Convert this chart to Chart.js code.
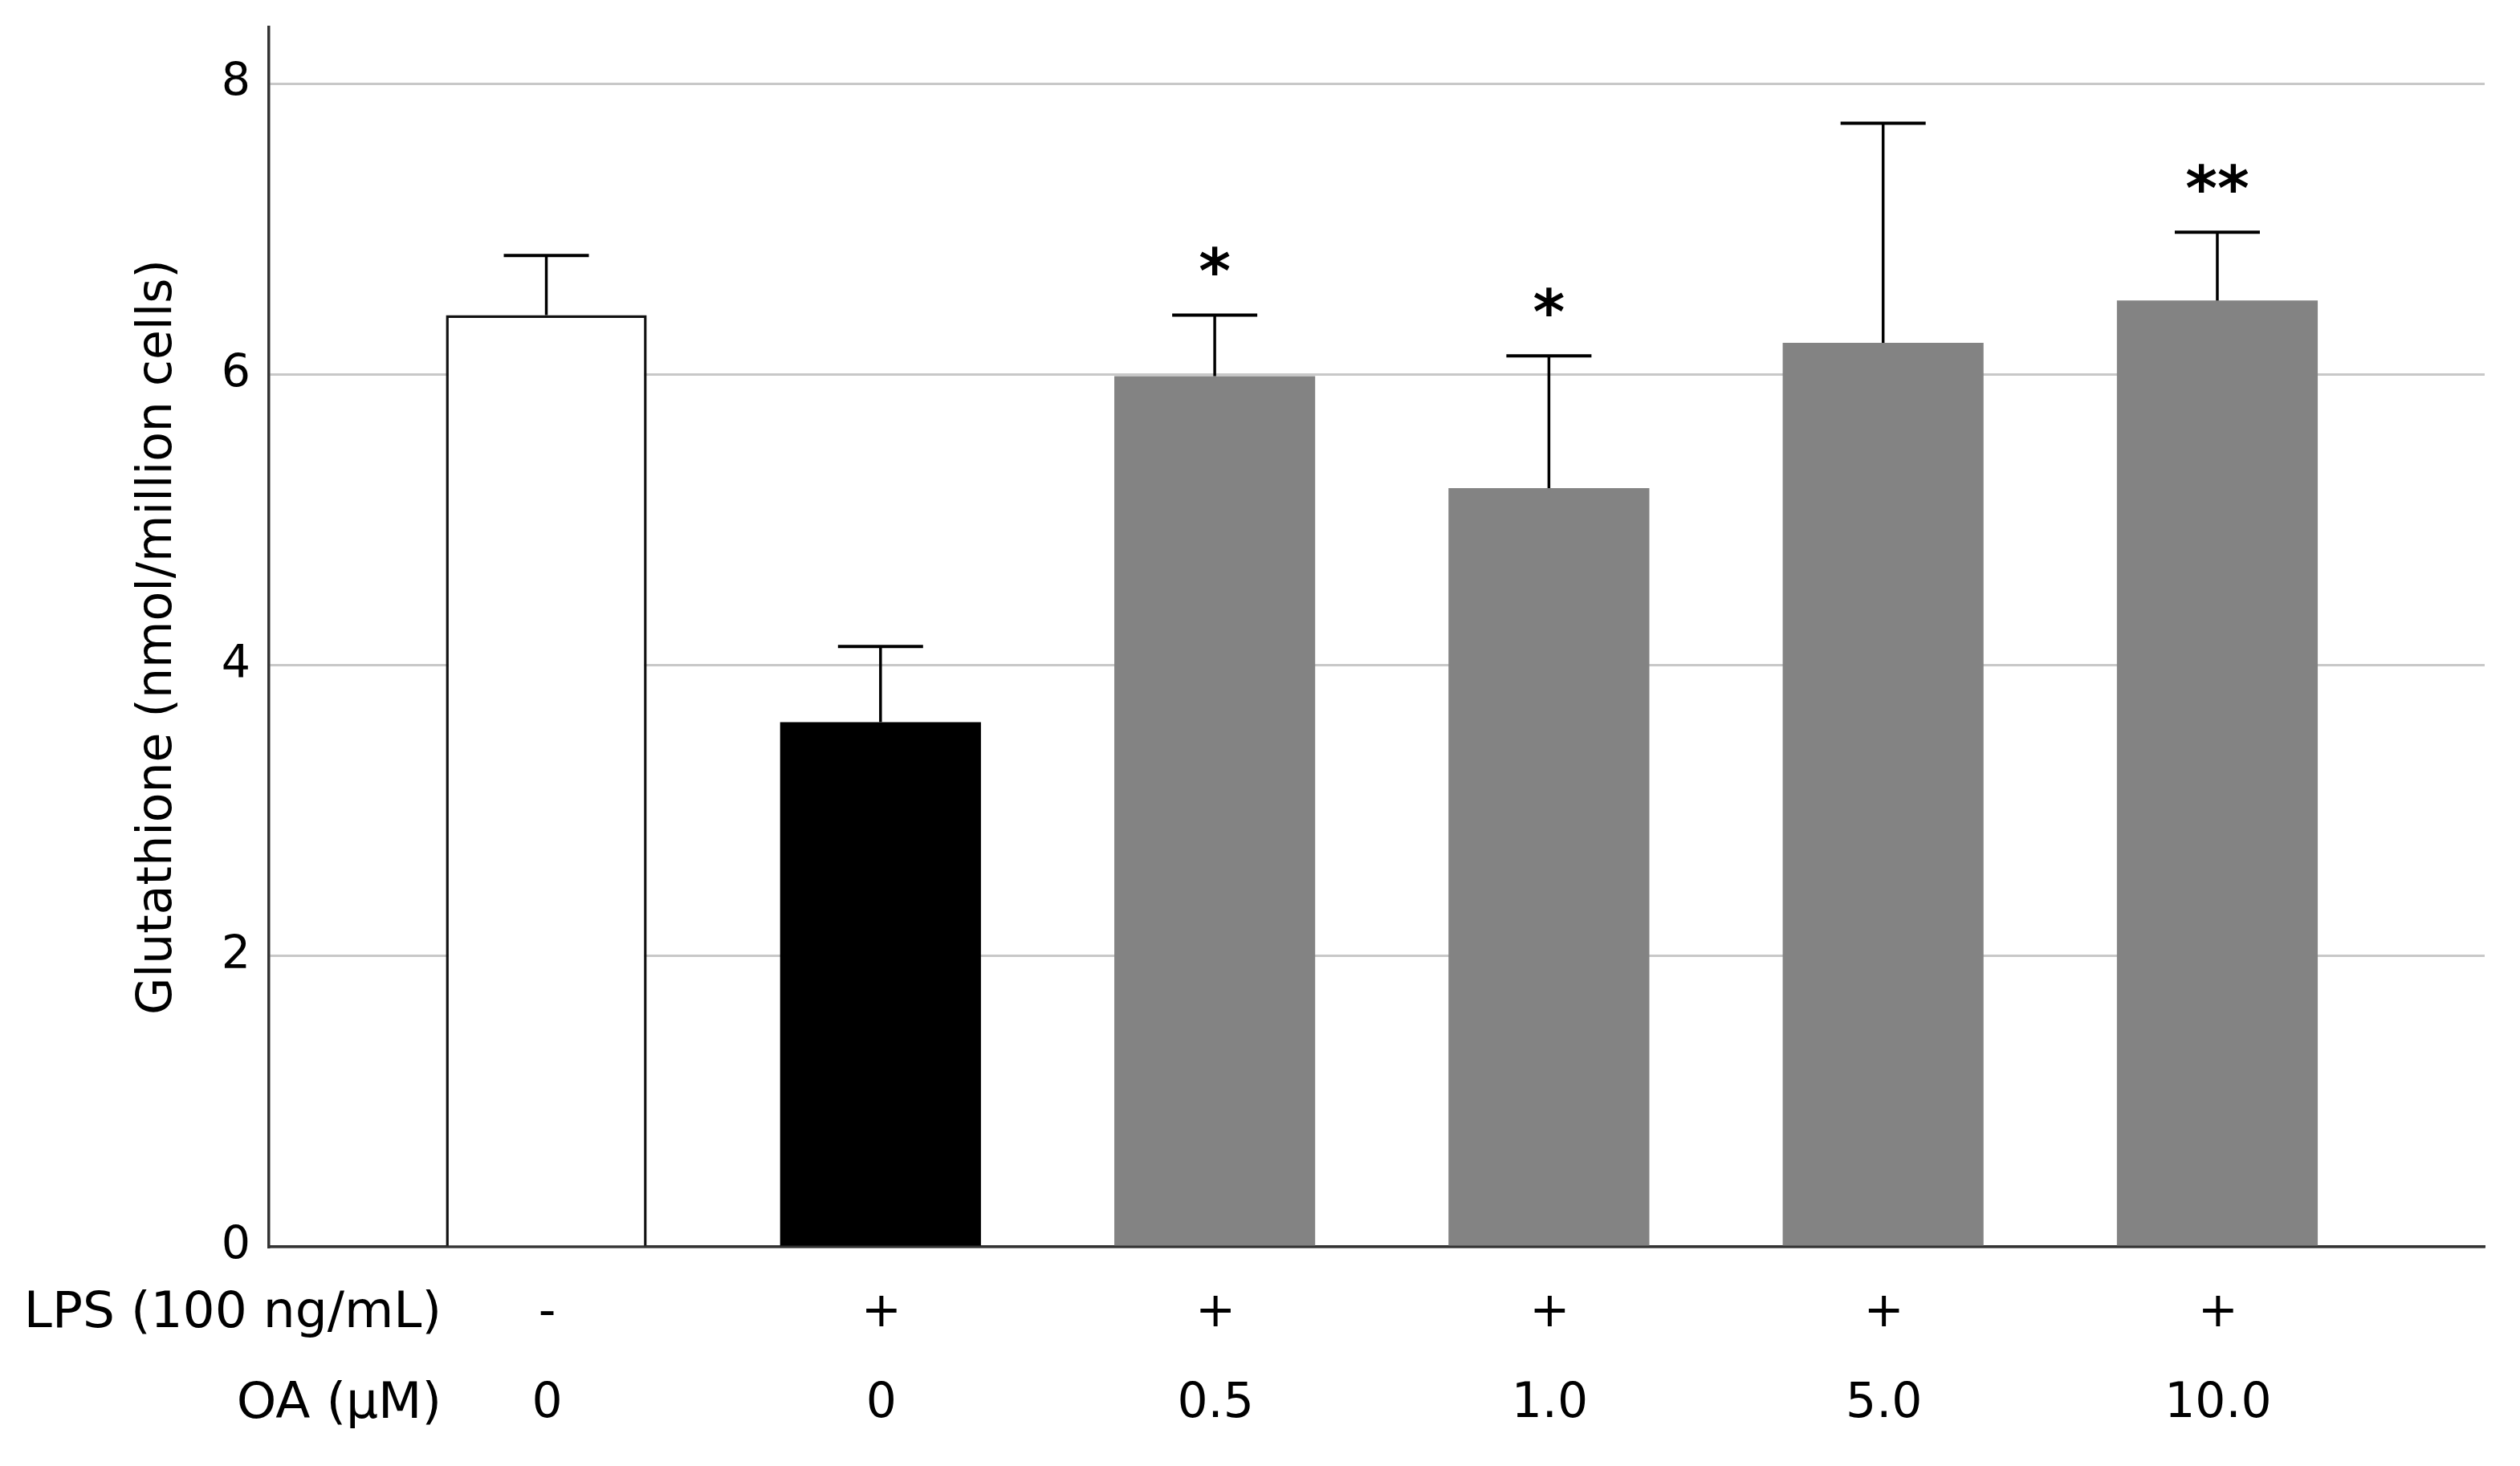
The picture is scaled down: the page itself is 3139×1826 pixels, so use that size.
<!DOCTYPE html>
<html>
<head>
<meta charset="utf-8">
<script src="https://cdn.jsdelivr.net/npm/chart.js@4.4.0/dist/chart.umd.min.js"></script>
<style>
  html, body { margin: 0; padding: 0; background: #fff; }
  #wrap { width: 3139px; height: 1826px; }
</style>
</head>
<body>
<div id="wrap"><canvas id="gshChart"></canvas></div>
<script>
// data
const lpsLabels = ['-', '+', '+', '+', '+', '+'];
const oaLabels = ['0', '0', '0.5', '1.0', '5.0', '10.0'];
const meanValues = [6.41, 3.61, 5.99, 5.22, 6.22, 6.51];
const sdValues = [0.41, 0.52, 0.42, 0.91, 1.51, 0.47];
const sigMarks = ['', '', '*', '*', '', '**'];
const yTicks = [0, 2, 4, 6, 8];
const rowTitles = ['LPS (100 ng/mL)', 'OA (\u00b5M)'];

const barColors = ['#ffffff', '#000000', '#838383', '#838383', '#838383', '#838383'];
const FONT = "'DejaVu Sans', sans-serif";
const tickLineHeight = 113;
const tickPad = 27;

// upper error bars + significance stars
const errorBars = {
    id: 'errorBars',
    afterDatasetsDraw(chart) {
        const ctx = chart.ctx;
        const yScale = chart.scales.y;
        const meta = chart.getDatasetMeta(0);
        ctx.save();
        ctx.strokeStyle = '#000';
        meta.data.forEach((bar, i) => {
            const yTop = yScale.getPixelForValue(meanValues[i] + sdValues[i]);
            ctx.lineWidth = 3.5;
            ctx.beginPath();
            ctx.moveTo(bar.x, bar.y);
            ctx.lineTo(bar.x, yTop);
            ctx.stroke();
            ctx.lineWidth = 4;
            ctx.beginPath();
            ctx.moveTo(bar.x - 53, yTop);
            ctx.lineTo(bar.x + 53, yTop);
            ctx.stroke();
            if (sigMarks[i]) {
                ctx.fillStyle = '#000';
                ctx.font = 'bold 76px ' + FONT;
                ctx.textAlign = 'center';
                ctx.textBaseline = 'alphabetic';
                ctx.fillText(sigMarks[i], bar.x, yTop - 28);
            }
        });
        ctx.restore();
    }
};

// row titles left of the two x label rows
const rowTitlePlugin = {
    id: 'rowTitles',
    afterDraw(chart) {
        const ctx = chart.ctx;
        const xScale = chart.scales.x;
        ctx.save();
        ctx.fillStyle = '#000';
        ctx.font = '63px ' + FONT;
        ctx.textAlign = 'right';
        ctx.textBaseline = 'middle';
        rowTitles.forEach((t, i) => {
            const y = xScale.top + tickPad + tickLineHeight / 2 + i * tickLineHeight;
            ctx.fillText(t, 550, y);
        });
        ctx.restore();
    }
};

const ctx = document.getElementById('gshChart').getContext('2d');
const chart = new Chart(ctx, {
    type: 'bar',
    data: {
        datasets: [{
            data: meanValues.map((v, i) => ({ x: i, y: v })),
            backgroundColor: barColors,
            borderColor: '#111',
            borderWidth: [3.5, 0, 0, 0, 0, 0],
            borderSkipped: 'start',
            barPercentage: 0.601,
            categoryPercentage: 1
        }]
    },
    options: {
        responsive: true,
        maintainAspectRatio: false,
        devicePixelRatio: 1,
        animation: false,
        layout: { padding: { top: 34, right: 44, left: 0, bottom: 0 } },
        plugins: {
            legend: { display: false },
            tooltip: { enabled: false }
        },
        scales: {
            x: {
                type: 'linear',
                offset: false,
                min: -0.83,
                max: 5.80,
                grid: { display: false, drawTicks: false },
                border: { color: '#333', width: 3.5 },
                afterBuildTicks: (scale) => {
                    scale.ticks = oaLabels.map((_, i) => ({ value: i }));
                },
                afterFit: (scale) => {
                    scale.height = 273;
                    scale.paddingLeft = 0;
                    scale.paddingRight = 0;
                },
                ticks: {
                    autoSkip: false,
                    maxRotation: 0,
                    padding: tickPad,
                    labelOffset: 1,
                    color: '#000',
                    font: { family: FONT, size: 60, lineHeight: tickLineHeight / 60 },
                    callback: (value) => [lpsLabels[value], oaLabels[value]]
                }
            },
            y: {
                min: 0,
                max: 8.39,
                grid: { color: '#c8c8c8', lineWidth: 3, drawTicks: false },
                border: { color: '#333', width: 3.5 },
                afterBuildTicks: (scale) => {
                    scale.ticks = yTicks.map(v => ({ value: v }));
                },
                afterFit: (scale) => {
                    scale.width = 335;
                    scale.paddingTop = 0;
                    scale.paddingBottom = 0;
                },
                ticks: {
                    padding: 23,
                    color: '#000',
                    font: { family: FONT, size: 57 }
                },
                title: {
                    display: true,
                    text: 'Glutathione (nmol/million cells)',
                    color: '#000',
                    font: { family: FONT, size: 60 },
                    padding: { top: 161, bottom: 0 }
                }
            }
        }
    },
    plugins: [errorBars, rowTitlePlugin]
});
</script>
</body>
</html>
